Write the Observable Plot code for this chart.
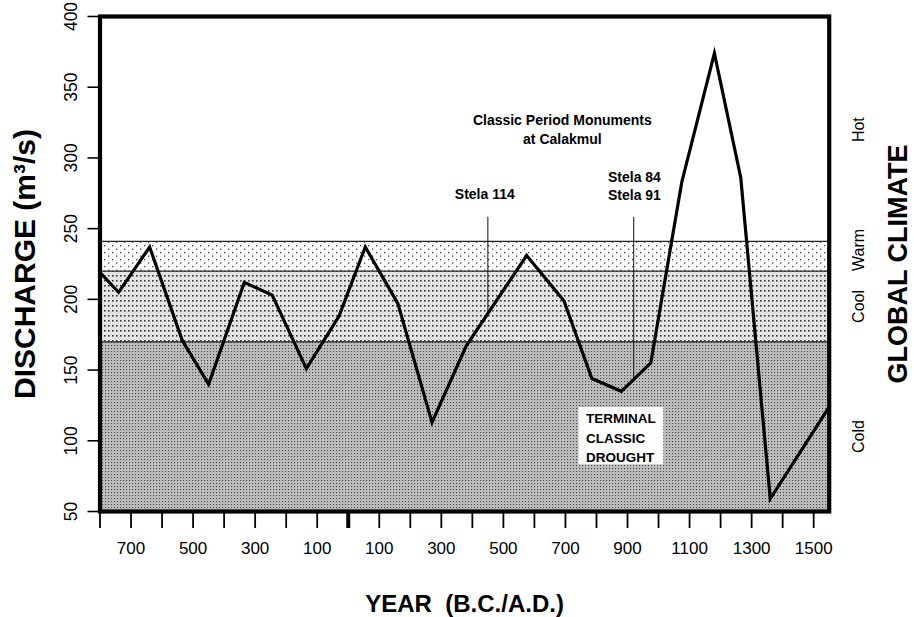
<!DOCTYPE html>
<html><head><meta charset="utf-8">
<script src="https://cdn.jsdelivr.net/npm/d3@7"></script>
<script src="https://cdn.jsdelivr.net/npm/@observablehq/plot@0.6"></script>
<style>body{margin:0;background:#fff} svg{display:block}</style>
</head><body><div id="chart"></div>
<script>
// Discharge series (negative years = B.C.)
const years = [-800,-740,-640,-535,-450,-335,-245,-135,-30,55,160,270,380,575,695,785,880,975,1075,1180,1265,1360,1550];
const discharge = [219,205,237,171,140,212,203,151,188,237,197,113,167,231,199,144,135,155,283,374,286,59,124];

// Global climate bands
const climateNames = ["Cold","Cool","Warm","Hot"];
const bandLow = [50,170,220,241];
const bandHigh = [170,220,241,400];
const bandLabelAt = [103,195,235,320];
const bandFills = ["url(#pCold)","url(#pCool)","url(#pWarm)","#ffffff"];

// Axes
const xTicks = d3.range(-800, 1501, 100);
const xTickLabels = [-700,-500,-300,-100,100,300,500,700,900,1100,1300,1500];
const yTicks = [50,100,150,200,250,300,350,400];

// Annotations
const stelaYears = [450, 920];
const stelaTop = 258;
const noteTexts = ["Classic Period Monuments\nat Calakmul", "Stela 114", "Stela 84\nStela 91"];
const noteX = [690, 440, 837];
const noteY = [321, 275, 280.5];
const noteAnchor = ["middle","middle","start"];
const noteLineHeight = [1.36, 1.2, 1.29];
const droughtText = "TERMINAL\nCLASSIC\nDROUGHT";
const droughtBox = {x1: 744, x2: 1017, y1: 83, y2: 123.5, tx: 766, ty: 103};

const series = years.map((y, i) => ({year: y, q: discharge[i]}));
const bands = climateNames.map((n, i) => ({name: n, lo: bandLow[i], hi: bandHigh[i], at: bandLabelAt[i], fill: bandFills[i]}));
const interp = d3.scaleLinear().domain(years).range(discharge);
const stelae = stelaYears.map(y => ({year: y, top: stelaTop, bottom: interp(y)}));
const notes = noteTexts.map((t, i) => ({t, x: noteX[i], y: noteY[i], a: noteAnchor[i], lh: noteLineHeight[i]}));

const font = "'Liberation Sans', Arial, Helvetica, sans-serif";

const chart = Plot.plot({
  width: 914, height: 617,
  marginLeft: 99.5, marginRight: 85.3, marginTop: 16, marginBottom: 106,
  style: {fontFamily: font, background: "#fff", color: "#000"},
  x: {domain: [-800, 1550]},
  y: {domain: [50, 400]},
  marks: [
    ...bands.map(b => Plot.rectY([b], {y1: "lo", y2: "hi", fill: b.fill})),
    Plot.ruleY(bandLow.slice(1), {stroke: "#222", strokeWidth: 1.2}),
    Plot.rect([droughtBox], {x1: "x1", x2: "x2", y1: "y1", y2: "y2", fill: "#fff"}),
    Plot.text([droughtText], {x: droughtBox.tx, y: droughtBox.ty, textAnchor: "start", lineAnchor: "middle", fontSize: 13.5, fontWeight: "bold", lineHeight: 1.45}),
    Plot.ruleX(stelae, {x: "year", y1: "top", y2: "bottom", stroke: "#111", strokeWidth: 1}),
    Plot.line(series, {x: "year", y: "q", stroke: "#000", strokeWidth: 3.2, strokeLinejoin: "miter", strokeMiterlimit: 10}),
    ...notes.map(n => Plot.text([n], {x: "x", y: "y", text: "t", textAnchor: n.a, lineAnchor: "middle", lineHeight: n.lh, fontSize: 14, fontWeight: "bold"})),
    Plot.frame({stroke: "#000", strokeWidth: 4.2}),
    Plot.axisY({ticks: yTicks, tickSize: 12, tickRotate: -90, tickPadding: 11, fontSize: 17.5, strokeWidth: 1.6, label: null}),
    Plot.axisX({ticks: xTicks, tickSize: 17, tickPadding: 13, fontSize: 17, strokeWidth: 1.8, label: null,
      tickFormat: d => xTickLabels.includes(d) ? String(Math.abs(d)) : ""}),
    Plot.axisX({ticks: [0], tickSize: 17, strokeWidth: 4, tickFormat: () => "", label: null}),
    Plot.text(bands, {y: "at", text: "name", frameAnchor: "right", dx: 30, rotate: -90, fontSize: 16, textAnchor: "middle", lineAnchor: "middle"}),
    Plot.text(["DISCHARGE (m³/s)"], {frameAnchor: "left", dx: -75, rotate: -90, fontSize: 30, fontWeight: "bold", textAnchor: "middle", lineAnchor: "middle"}),
    Plot.text(["GLOBAL CLIMATE"], {frameAnchor: "right", dx: 69, rotate: -90, fontSize: 27, fontWeight: "bold", textAnchor: "middle", lineAnchor: "middle"}),
    Plot.text(["YEAR\u00a0 (B.C./A.D.)"], {frameAnchor: "bottom", dy: 93, fontSize: 24, fontWeight: "bold", textAnchor: "middle", lineAnchor: "middle"})
  ]
});

// dotted screen patterns for the climate bands
const defs = d3.select(chart).insert("defs", ":first-child");
function pattern(id, w, h, bg, dots, dotColor, size) {
  const p = defs.append("pattern").attr("id", id).attr("width", w).attr("height", h).attr("patternUnits", "userSpaceOnUse");
  p.append("rect").attr("width", w).attr("height", h).attr("fill", bg);
  dots.forEach(([x, y]) => p.append("rect").attr("x", x).attr("y", y).attr("width", size).attr("height", size).attr("fill", dotColor));
}
pattern("pWarm", 8, 7, "#ffffff", [[0,0],[4,3.5]], "#444", 1.3);
pattern("pCool", 4, 5, "#e4e4e4", [[0,0]], "#333", 1.6);
pattern("pCold", 3, 3, "#bdbdbd", [[0,0]], "#4a4a4a", 1.1);

document.getElementById("chart").appendChild(chart);
</script>
</body></html>
